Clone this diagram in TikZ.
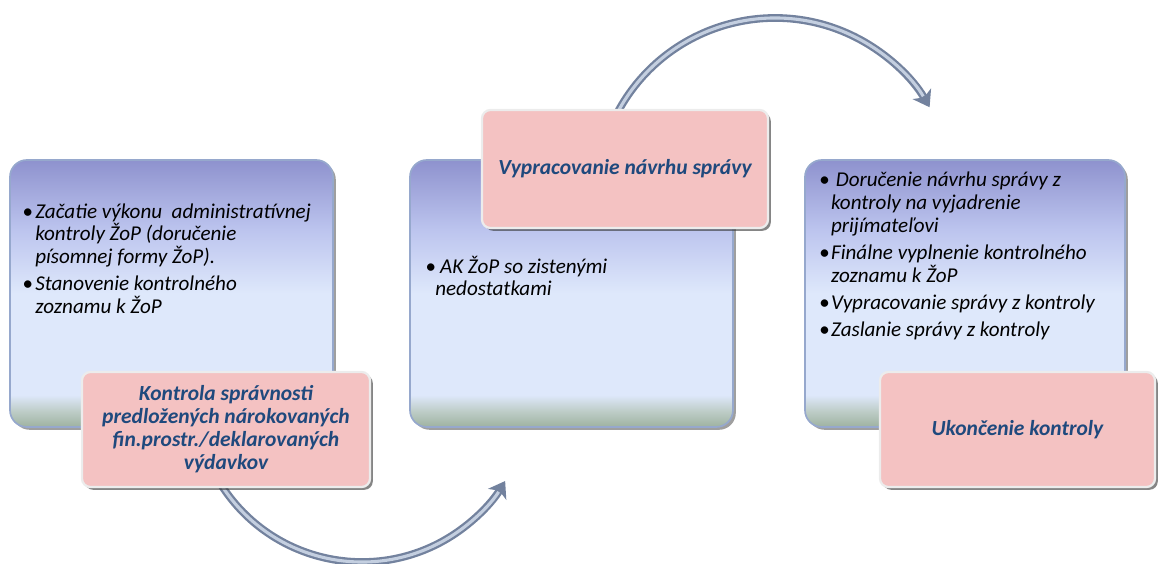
\documentclass[tikz,border=0pt]{standalone}
\usepackage{fontspec}
\setmainfont{Carlito}
\usetikzlibrary{shadows,arrows.meta}
\definecolor{pinkfill}{RGB}{244,194,194}
\definecolor{pinktext}{RGB}{31,73,125}
\definecolor{arrowdark}{RGB}{115,130,158}
\definecolor{arrowlight}{RGB}{196,207,224}
\definecolor{boxbot}{RGB}{158,178,160}
\definecolor{boxgreen}{RGB}{190,205,200}
\definecolor{boxlight}{RGB}{222,232,251}
\definecolor{boxmid}{RGB}{188,196,238}
\definecolor{boxtop}{RGB}{142,146,206}
\definecolor{boxedge}{RGB}{150,168,205}
\pgfdeclareverticalshading{bluebox}{100bp}{color(0bp)=(boxbot); color(25bp)=(boxbot); color(28bp)=(boxgreen); color(31bp)=(boxlight); color(50bp)=(boxlight); color(62bp)=(boxmid); color(75bp)=(boxtop); color(100bp)=(boxtop)}
\newcommand{\bul}[1]{\makebox[#1][l]{•}}
\tikzset{
  bluebox/.style={rectangle, rounded corners=12pt, shading=bluebox, draw=boxedge, line width=1.2pt,
    drop shadow={shadow xshift=2pt, shadow yshift=-2pt, opacity=0.5, fill=black!75}},
  pinkbox/.style={rectangle, rounded corners=6pt, fill=pinkfill, draw=white!85!gray, line width=1.6pt,
    drop shadow={shadow xshift=2pt, shadow yshift=-2pt, opacity=0.6, fill=black!80},
    font=\bfseries\itshape\fontsize{15.3}{16.4}\selectfont, text=pinktext, align=center},
  bodytext/.style={anchor=base west, inner sep=0pt, font=\itshape\fontsize{15}{16.2}\selectfont},
  arrowouter/.style={line width=5.5pt, arrowdark, -{Stealth[length=11pt, width=15pt, inset=3pt]}},
  arrowinner/.style={line width=2.2pt, arrowlight, shorten >=9pt}
}
\begin{document}
\begin{tikzpicture}
\useasboundingbox (0,0) rectangle (29,14.075);
% blue boxes
\node[bluebox, minimum width=8.075cm, minimum height=6.675cm] (b1) at (4.2875,6.7375) {};
\node[bluebox, minimum width=8.075cm, minimum height=6.675cm] (b2) at (14.2875,6.7375) {};
\node[bluebox, minimum width=8.0cm, minimum height=6.675cm] (b3) at (24.125,6.7375) {};
% texts
\node[bodytext] (t1) at (0.55,8.62) {\parbox[t]{8cm}{\raggedright
\bul{0.325cm}Začatie výkonu \ administratívnej\\
\hspace*{0.325cm}kontroly ŽoP (doručenie\\
\hspace*{0.325cm}písomnej formy ŽoP).\\[3pt]
\bul{0.325cm}Stanovenie kontrolného\\
\hspace*{0.325cm}zoznamu k ŽoP}};
\node[bodytext] (t2) at (10.625,7.25) {\parbox[t]{8cm}{\raggedright
\bul{0.25cm}\ AK ŽoP so zistenými\\
\hspace*{0.25cm}nedostatkami}};
\node[bodytext] (t3) at (20.47,9.4) {\parbox[t]{8cm}{\raggedright
\bul{0.3cm}\ Doručenie návrhu správy z\\
\hspace*{0.3cm}kontroly na vyjadrenie\\
\hspace*{0.3cm}prijímateľovi\\[3pt]
\bul{0.3cm}Finálne vyplnenie kontrolného\\
\hspace*{0.3cm}zoznamu k ŽoP\\[3pt]
\bul{0.3cm}Vypracovanie správy z kontroly\\[3pt]
\bul{0.3cm}Zaslanie správy z kontroly}};
% arrows
\coordinate (a1s) at (5.5485,1.926);
\coordinate (a2s) at (15.435,11.2575);
\draw[arrowouter] (a1s) arc[start angle=213, end angle=329, radius=4.175cm] coordinate (a1e);
\draw[arrowinner] (a1s) arc[start angle=213, end angle=329, radius=4.175cm];
\draw[arrowouter] (a2s) arc[start angle=152, end angle=30, radius=4.4625cm] coordinate (a2e);
\draw[arrowinner] (a2s) arc[start angle=152, end angle=30, radius=4.4625cm];
% pink boxes
\node[pinkbox, minimum width=7.2cm, minimum height=2.875cm] (p1) at (5.65,3.3375) {Kontrola správnosti\\predložených nárokovaných\\fin.prostr./deklarovaných\\výdavkov};
\node[pinkbox, minimum width=7.15cm, minimum height=2.95cm] (p2) at (15.625,9.85) {Vypracovanie návrhu správy};
\node[pinkbox, minimum width=6.875cm, minimum height=2.875cm] (p3) at (25.4375,3.3375) {Ukončenie kontroly};
\end{tikzpicture}
\end{document}
